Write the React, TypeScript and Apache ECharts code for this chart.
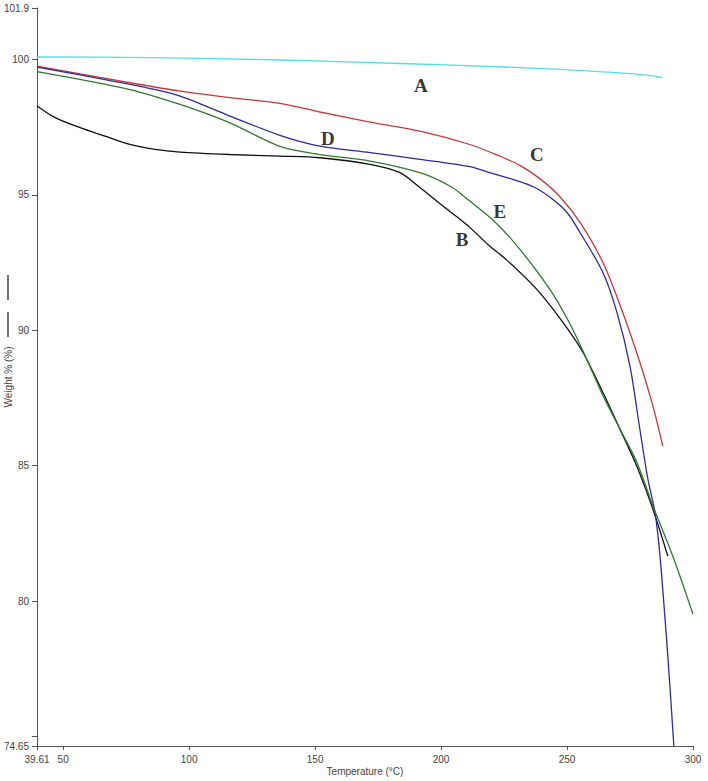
import React, { useEffect, useRef } from "react";
import * as echarts from "echarts";

// Temperature (°C) / Weight (%)
const curveA: [number, number][] = [
  [39.61, 100.09], [84.5, 100.07], [136.0, 99.98], [183.7, 99.85], [231.3, 99.7],
  [259.1, 99.57], [278.9, 99.45], [288.0, 99.33],
];
const curveB: [number, number][] = [
  [39.61, 98.28], [46.8, 97.85], [56.7, 97.48], [66.6, 97.17], [76.5, 96.86], [86.4, 96.68],
  [96.4, 96.58], [116.2, 96.49], [136.0, 96.43], [151.9, 96.37], [171.8, 96.13], [183.7, 95.82],
  [191.6, 95.27], [201.5, 94.53], [207.5, 94.1], [211.4, 93.8], [219.4, 93.1], [226.0, 92.6],
  [238.0, 91.51], [248.3, 90.3], [256.3, 89.19], [264.2, 87.71], [271.0, 86.35], [277.7, 84.98],
  [284.1, 83.39], [290.0, 81.66],
];
const curveC: [number, number][] = [
  [39.61, 99.75], [76.5, 99.14], [96.4, 98.83], [116.2, 98.59], [136.0, 98.38], [151.9, 98.06],
  [171.8, 97.69], [191.6, 97.35], [211.4, 96.86], [223.3, 96.43], [231.3, 96.09], [239.2, 95.6],
  [247.0, 94.95], [255.1, 93.99], [264.2, 92.51], [272.1, 90.66], [278.9, 88.82], [284.1, 87.2],
  [288.0, 85.72],
];
const curveD: [number, number][] = [
  [39.61, 99.72], [76.5, 99.08], [96.4, 98.65], [116.2, 97.91], [136.0, 97.2], [151.9, 96.8],
  [171.8, 96.56], [191.6, 96.31], [211.4, 96.04], [220.0, 95.8], [228.5, 95.57], [237.0, 95.28],
  [244.4, 94.83], [250.0, 94.35], [255.1, 93.62], [264.2, 92.14], [269.8, 90.66], [275.0, 88.67],
  [278.9, 86.35], [282.1, 84.5], [284.9, 83.28], [286.9, 81.66], [290.0, 77.97], [292.4, 74.65],
];
const curveE: [number, number][] = [
  [39.61, 99.55], [76.5, 98.89], [96.4, 98.34], [116.2, 97.66], [136.0, 96.79], [151.9, 96.49],
  [171.8, 96.25], [191.6, 95.82], [204.0, 95.3], [211.4, 94.77], [221.4, 94.0], [231.3, 92.99],
  [243.2, 91.51], [250.5, 90.35], [257.0, 89.1], [264.2, 87.6], [271.0, 86.35], [277.7, 85.13],
  [284.1, 83.51], [292.0, 81.66], [300.0, 79.52],
];
const curveLabels: [number, number, string][] = [
  [192.0, 99.04, "A"], [208.3, 93.36, "B"], [238.0, 96.49, "C"], [155.1, 97.08, "D"], [223.3, 94.39, "E"],
];
const xLabelValues = [39.61, 50, 100, 150, 200, 250, 300];
const yLabelValues = [74.65, 80, 85, 90, 95, 100, 101.9];
const yTickValues = [74.65, 75, 80, 85, 90, 95, 100, 101.9];

const seriesDefs = [
  { name: "A", data: curveA, color: "#55dde6" },
  { name: "B", data: curveB, color: "#111111" },
  { name: "C", data: curveC, color: "#c63a3d" },
  { name: "D", data: curveD, color: "#2c2c9c" },
  { name: "E", data: curveE, color: "#2d7a30" },
];

export default function App() {
  const ref = useRef<HTMLDivElement>(null);
  useEffect(() => {
    if (!ref.current) return;
    const chart = echarts.init(ref.current, undefined, { renderer: "svg" });
    const axisColor = "#555";
    const labelStyle = { color: "#444", fontSize: 10, fontFamily: "Liberation Sans, Arial, sans-serif" };
    chart.setOption({
      animation: false,
      backgroundColor: "#fff",
      grid: { left: 37, right: 15, top: 8, bottom: 35, containLabel: false, outerBoundsMode: "none" },
      xAxis: {
        type: "value",
        min: 39.61,
        max: 300,
        name: "Temperature (°C)",
        nameLocation: "middle",
        nameGap: 20,
        nameMoveOverlap: false,
        nameTextStyle: { ...labelStyle },
        axisLine: { show: true, lineStyle: { color: axisColor, width: 1 } },
        axisTick: { show: true, length: 4, customValues: xLabelValues, lineStyle: { color: axisColor } },
        axisLabel: { ...labelStyle, margin: 8, customValues: xLabelValues, formatter: (v: number) => String(v) },
        splitLine: { show: false },
      },
      yAxis: {
        type: "value",
        min: 74.65,
        max: 101.9,
        name: "Weight % (%)",
        nameLocation: "middle",
        nameGap: 24,
        nameMoveOverlap: false,
        nameRotate: 90,
        nameTextStyle: { ...labelStyle, fontSize: 10 },
        axisLine: { show: true, lineStyle: { color: axisColor, width: 1 } },
        axisTick: { show: true, length: 5, customValues: yTickValues, lineStyle: { color: axisColor } },
        axisLabel: { ...labelStyle, margin: 8, customValues: yLabelValues, formatter: (v: number) => String(v) },
        splitLine: { show: false },
      },
      graphic: [
        { type: "line", shape: { x1: 8, y1: 275, x2: 8, y2: 300 }, style: { stroke: "#222", lineWidth: 1.3 } },
        { type: "line", shape: { x1: 8, y1: 312, x2: 8, y2: 337 }, style: { stroke: "#222", lineWidth: 1.3 } },
      ],
      series: [
        ...seriesDefs.map((s) => ({
          name: s.name,
          type: "line",
          data: s.data,
          showSymbol: false,
          smooth: 0.3,
          lineStyle: { color: s.color, width: 1.3 },
          itemStyle: { color: s.color },
          z: 2,
        })),
        {
          name: "labels",
          type: "scatter",
          data: curveLabels,
          symbolSize: 1,
          itemStyle: { color: "rgba(0,0,0,0)" },
          label: {
            show: true,
            position: "inside",
            formatter: (p: any) => p.data[2],
            color: "#000",
            fontSize: 19,
            fontWeight: "bold",
            fontFamily: "Liberation Serif, Times New Roman, serif",
          },
          z: 5,
        },
      ],
    });
    return () => chart.dispose();
  }, []);
  return <div ref={ref} style={{ position: "absolute", left: 0, top: 0, width: 708, height: 781 }} />;
}
